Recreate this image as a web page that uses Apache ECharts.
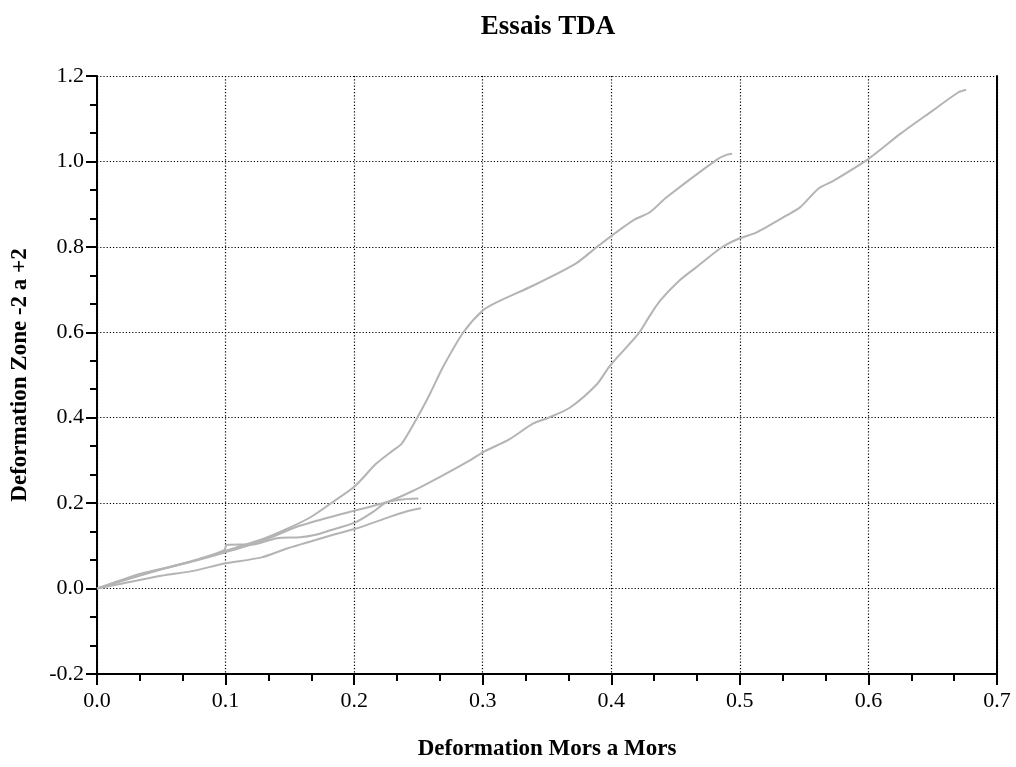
<!DOCTYPE html>
<html>
<head>
<meta charset="utf-8">
<script src="https://cdn.jsdelivr.net/npm/echarts@6/dist/echarts.min.js"></script>
<style>html,body{margin:0;padding:0;background:#fff;}#c{width:1016px;height:767px;}</style>
</head>
<body>
<div id="c"></div>
<script>
var chartTitle = 'Essais TDA';
var xName = 'Deformation Mors a Mors';
var yName = 'Deformation Zone -2 a +2';

var curveAX = [0,0.01,0.033,0.072,0.109,0.129,0.148,0.166,0.185,0.201,0.217,0.23,0.237,0.25,0.259,0.269,0.285,0.300,0.310,0.339,0.372,0.391,0.417,0.430,0.443,0.483,0.490,0.494];
var curveAY = [0,0.01,0.034,0.062,0.097,0.116,0.140,0.167,0.206,0.241,0.292,0.323,0.339,0.405,0.456,0.518,0.600,0.651,0.669,0.709,0.760,0.805,0.862,0.881,0.916,1.006,1.016,1.018];

var curveBX = [0,0.02,0.05,0.08,0.1,0.129,0.155,0.181,0.201,0.225,0.246,0.269,0.290,0.300,0.321,0.339,0.352,0.368,0.389,0.399,0.421,0.430,0.438,0.453,0.466,0.486,0.499,0.513,0.536,0.547,0.561,0.573,0.600,0.625,0.650,0.670,0.676];
var curveBY = [0,0.02,0.045,0.068,0.085,0.112,0.144,0.167,0.183,0.202,0.229,0.265,0.300,0.319,0.350,0.386,0.401,0.424,0.479,0.522,0.596,0.639,0.674,0.721,0.752,0.799,0.819,0.834,0.873,0.893,0.936,0.955,1.006,1.065,1.119,1.162,1.168];

var curveCX = [0,0.02,0.05,0.08,0.099,0.101,0.123,0.14,0.158,0.17,0.181,0.201,0.215,0.224,0.235,0.25];
var curveCY = [0,0.018,0.045,0.07,0.09,0.102,0.104,0.118,0.120,0.126,0.136,0.155,0.180,0.200,0.208,0.211];

var curveDX = [0,0.02,0.05,0.076,0.098,0.128,0.149,0.168,0.185,0.201,0.225,0.24,0.252];
var curveDY = [0,0.012,0.030,0.042,0.058,0.073,0.095,0.112,0.127,0.140,0.165,0.180,0.188];

var xTicks = ['0.0','0.1','0.2','0.3','0.4','0.5','0.6','0.7'];
var yTicks = ['-0.2','0.0','0.2','0.4','0.6','0.8','1.0','1.2'];

function pairs(xs, ys) { return xs.map(function (x, i) { return [x, ys[i]]; }); }

var serifFont = '"Liberation Serif", "Times New Roman", serif';
var lineColor = '#b4b4b4';

function mkSeries(xs, ys) {
  return { type: 'line', data: pairs(xs, ys), showSymbol: false, symbol: 'none', smooth: 0.25,
    lineStyle: { color: lineColor, width: 2 }, animation: false, z: 3 };
}

var chart = echarts.init(document.getElementById('c'));
chart.setOption({
  backgroundColor: '#fff',
  animation: false,
  title: { text: chartTitle, left: 543, textAlign: 'center', top: 9,
    textStyle: { fontFamily: serifFont, fontWeight: 'bold', fontSize: 27, color: '#000' } },
  grid: { left: 97, right: 19, top: 76, bottom: 93, containLabel: false },
  xAxis: {
    type: 'value', min: 0, max: 0.7, interval: 0.1,
    name: xName, nameLocation: 'middle', nameGap: 64,
    nameTextStyle: { fontFamily: serifFont, fontWeight: 'bold', fontSize: 23, color: '#000' },
    axisLine: { show: true, onZero: false, lineStyle: { color: '#000', width: 2 } },
    axisTick: { show: true, length: 11, lineStyle: { color: '#000', width: 2 } },
    minorTick: { show: true, splitNumber: 3, length: 7, lineStyle: { color: '#000', width: 2 } },
    axisLabel: { margin: 16, fontFamily: serifFont, fontSize: 22, color: '#000',
      formatter: function (v) { return xTicks[Math.round(v * 10)]; } },
    splitLine: { show: true, lineStyle: { color: '#000', width: 1.2, type: [1.2, 2] } }
  },
  yAxis: [{
    type: 'value', min: -0.2, max: 1.2, interval: 0.2,
    name: yName, nameLocation: 'middle', nameGap: 65,
    nameTextStyle: { fontFamily: serifFont, fontWeight: 'bold', fontSize: 23, color: '#000' },
    axisLine: { show: true, onZero: false, lineStyle: { color: '#000', width: 2 } },
    axisTick: { show: true, length: 11, lineStyle: { color: '#000', width: 2 } },
    minorTick: { show: true, splitNumber: 3, length: 7, lineStyle: { color: '#000', width: 2 } },
    axisLabel: { margin: 13, fontFamily: serifFont, fontSize: 22, color: '#000',
      formatter: function (v) { return yTicks[Math.round((v + 0.2) * 5)]; } },
    splitLine: { show: true, lineStyle: { color: '#000', width: 1.2, type: [1.2, 2] } }
  }, {
    type: 'value', min: -0.2, max: 1.2, interval: 0.2, position: 'right',
    axisLine: { show: true, onZero: false, lineStyle: { color: '#000', width: 2 } },
    axisTick: { show: false }, axisLabel: { show: false }, splitLine: { show: false }
  }],
  series: [
    mkSeries(curveDX, curveDY),
    mkSeries(curveCX, curveCY),
    mkSeries(curveBX, curveBY),
    mkSeries(curveAX, curveAY)
  ]
});
</script>
</body>
</html>
